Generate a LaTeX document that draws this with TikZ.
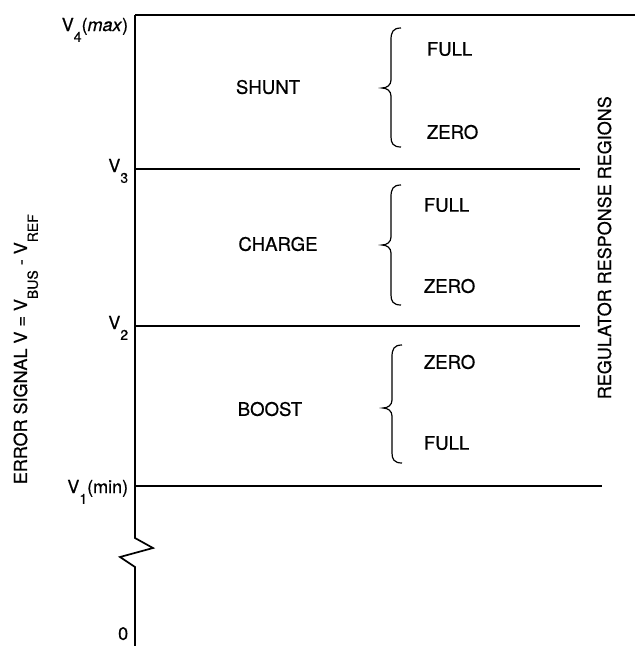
\documentclass[tikz,border=0pt]{standalone}
\usepackage{fontspec}
\setmainfont{TeX Gyre Heros}[FakeBold=0.6]
\newcommand{\mysub}[1]{\raisebox{-0.6em}{\fontsize{14}{14}\selectfont #1}}
\begin{document}
\begin{tikzpicture}[x=1pt,y=-1pt,line width=1.7pt,
  lbl/.style={inner sep=0pt,font=\fontsize{18}{18}\selectfont},
  bigl/.style={inner sep=0pt,font=\fontsize{18.6}{18.6}\selectfont},
  bracepath/.style={line width=1.2pt}]
\useasboundingbox (0,0) rectangle (635,646);
% axis and level lines
\coordinate (ax4) at (135,15);
\coordinate (top4) at (635,15);
\coordinate (ax3) at (135,169);
\coordinate (end3) at (580,169);
\coordinate (ax2) at (135,326);
\coordinate (end2) at (580,326);
\coordinate (ax1) at (135,486);
\coordinate (end1) at (602,486);
\coordinate (zz0) at (135,538);
\coordinate (zz1) at (153,548);
\coordinate (zz2) at (120,557);
\coordinate (zz3) at (135,567);
\coordinate (axb) at (135,646);
\draw (ax4) -- (top4);
\draw (ax3) -- (end3);
\draw (ax2) -- (end2);
\draw (ax1) -- (end1);
\draw (ax4) -- (zz0) -- (zz1) -- (zz2) -- (zz3) -- (axb);
% level labels
\node[lbl,anchor=base east] (v4) at (129,31) {V\mysub{4}(\textit{max})};
\node[lbl,anchor=base east] (v3) at (129,172) {V\mysub{3}};
\node[lbl,anchor=base east] (v2) at (129,329) {V\mysub{2}};
\node[lbl,anchor=base east] (v1) at (129,493) {V\mysub{1}(min)};
\node[lbl,anchor=south east] (v0) at (129,641) {0};
% axis titles
\node[lbl,rotate=90,anchor=base west] (ytitle) at (27,485) {ERROR SIGNAL V = V\mysub{BUS} - V\mysub{REF}};
\node[lbl,rotate=90,anchor=base west] (rtitle) at (611,400) {REGULATOR RESPONSE REGIONS};
% region names
\node[bigl] (shunt) at (268,87) {SHUNT};
\node[bigl] (charge) at (278,244) {CHARGE};
\node[bigl] (boost) at (270,409) {BOOST};
% response labels
\node[bigl,anchor=west] (f1) at (426,49) {FULL};
\node[bigl,anchor=west] (z1) at (426,132) {ZERO};
\node[bigl,anchor=west] (f2) at (423,205) {FULL};
\node[bigl,anchor=west] (z2) at (423,286) {ZERO};
\node[bigl,anchor=west] (z3) at (423,362) {ZERO};
\node[bigl,anchor=west] (f3) at (423,443) {FULL};
% braces
\draw[bracepath] (401,28) .. controls (393,28) and (391,32) .. (391,40) -- (391,80)
  .. controls (391,85) and (387,88) .. (382,88) .. controls (387,88) and (391,91) .. (391,96)
  -- (391,137) .. controls (391,143) and (393,147) .. (401,147);
\draw[bracepath] (401,185) .. controls (393,185) and (391,189) .. (391,197) -- (391,237)
  .. controls (391,242) and (387,245) .. (382,245) .. controls (387,245) and (391,248) .. (391,253)
  -- (391,295) .. controls (391,301) and (393,305) .. (401,305);
\draw[bracepath] (402,345) .. controls (394,345) and (392,349) .. (392,357) -- (392,400)
  .. controls (392,405) and (388,408) .. (383,408) .. controls (388,408) and (392,411) .. (392,416)
  -- (392,453) .. controls (392,459) and (394,463) .. (402,463);
\end{tikzpicture}
\end{document}
